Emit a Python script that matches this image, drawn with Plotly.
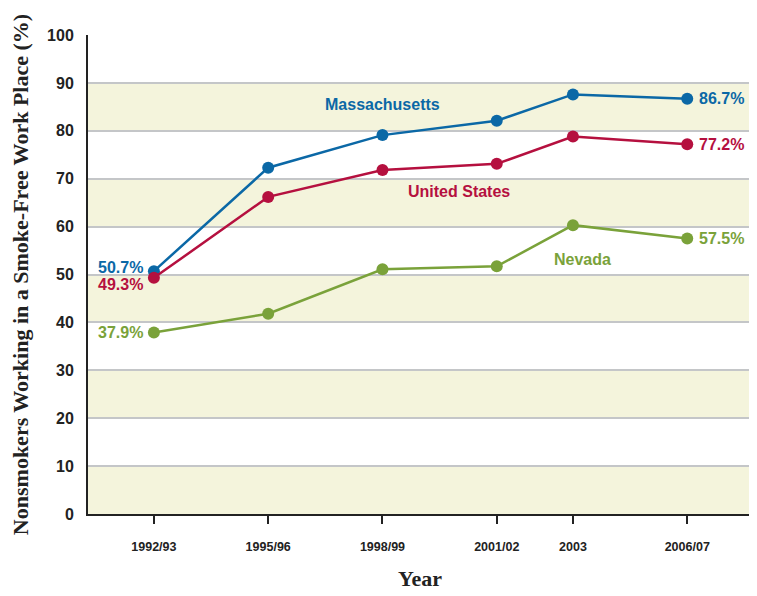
import plotly.graph_objects as go

# ---- data ----
year_labels = ["1992/93", "1995/96", "1998/99", "2001/02", "2003", "2006/07"]
year_pos = [0, 3, 6, 9, 11, 14]
massachusetts = [50.7, 72.3, 79.1, 82.1, 87.6, 86.7]
united_states = [49.3, 66.2, 71.8, 73.1, 78.8, 77.2]
nevada = [37.9, 41.8, 51.1, 51.7, 60.3, 57.5]
y_ticks = [0, 10, 20, 30, 40, 50, 60, 70, 80, 90, 100]
band_starts = [0, 20, 40, 60, 80]

BLUE = "#0b68a6"
RED = "#b5103f"
GREEN = "#7aa23a"
BAND = "#f4f4dc"
SANS = "Liberation Sans, Arial, sans-serif"
SERIF = "Liberation Serif, Times New Roman, serif"

fig = go.Figure()

series = [("Massachusetts", massachusetts, BLUE),
          ("United States", united_states, RED),
          ("Nevada", nevada, GREEN)]
for name, vals, col in series:
    fig.add_trace(go.Scatter(
        x=year_pos, y=vals, mode="lines+markers", name=name,
        line=dict(color=col, width=2.5),
        marker=dict(color=col, size=12),
        showlegend=False, cliponaxis=False))

# bands
for b in band_starts:
    fig.add_shape(type="rect", xref="paper", yref="y", x0=0, x1=1, y0=b, y1=b + 10,
                  fillcolor=BAND, line=dict(width=0), layer="below")

ann_font = dict(family=SANS, size=16)
# start labels
fig.add_annotation(x=year_pos[0], y=massachusetts[0], text="<b>%.1f%%</b>" % massachusetts[0],
                   xanchor="right", yanchor="middle", xshift=-9, yshift=4, showarrow=False,
                   font=dict(ann_font, color=BLUE))
fig.add_annotation(x=year_pos[0], y=united_states[0], text="<b>%.1f%%</b>" % united_states[0],
                   xanchor="right", yanchor="middle", xshift=-9, yshift=-7, showarrow=False,
                   font=dict(ann_font, color=RED))
fig.add_annotation(x=year_pos[0], y=nevada[0], text="<b>%.1f%%</b>" % nevada[0],
                   xanchor="right", yanchor="middle", xshift=-9, showarrow=False,
                   font=dict(ann_font, color=GREEN))
# end labels
for name, vals, col in series:
    fig.add_annotation(x=year_pos[-1], y=vals[-1], text="<b>%.1f%%</b>" % vals[-1],
                       xanchor="left", yanchor="middle", xshift=10, showarrow=False,
                       font=dict(ann_font, color=col))
# series names
fig.add_annotation(x=6, y=85.4, text="<b>Massachusetts</b>", showarrow=False,
                   font=dict(ann_font, color=BLUE))
fig.add_annotation(x=8.0, y=67.4, text="<b>United States</b>", showarrow=False,
                   font=dict(ann_font, color=RED))
fig.add_annotation(x=11.25, y=53.2, text="<b>Nevada</b>", showarrow=False,
                   font=dict(ann_font, color=GREEN))

fig.update_layout(
    width=749, height=588,
    margin=dict(l=80, r=5, t=27, b=82),
    paper_bgcolor="white", plot_bgcolor="white",
    xaxis=dict(
        range=[-1.73, 15.7], tickvals=year_pos,
        ticktext=["<b>%s</b>" % t for t in year_labels],
        tickfont=dict(family=SANS, size=12.5, color="#222"),
        ticks="outside", ticklen=8, tickwidth=1.5, tickcolor="#222",
        ticklabelstandoff=12,
        showgrid=False, zeroline=False,
        showline=True, linecolor="#222", linewidth=2,
        automargin=False,
        title=dict(text="<b>Year</b>", font=dict(family=SERIF, size=22, color="#222"), standoff=18),
        fixedrange=True),
    yaxis=dict(
        range=[0, 100], tickvals=y_ticks,
        ticktext=["<b>%d</b>" % v for v in y_ticks],
        tickfont=dict(family=SANS, size=16, color="#222"),
        ticks="", ticklabelstandoff=9,
        showgrid=True, gridcolor="#c4c6c8", gridwidth=2,
        zeroline=False,
        showline=True, linecolor="#222", linewidth=2,
        automargin=False,
        title=dict(text="<b>Nonsmokers Working in a Smoke-Free Work Place (%)</b>",
                   font=dict(family=SERIF, size=22, color="#222"), standoff=14),
        fixedrange=True),
)

fig.write_html("out.html")
